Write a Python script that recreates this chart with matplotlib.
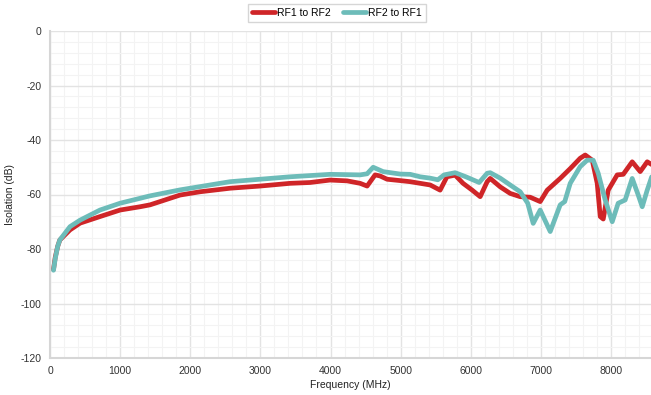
import matplotlib.pyplot as plt
from matplotlib.ticker import MultipleLocator

# values
rf1_freq = [50, 75, 110, 140, 285, 430, 713, 1000, 1284, 1426, 1855, 2140, 2568,
            2996, 3424, 3709, 3994, 4237, 4422, 4522, 4636, 4707, 4807, 4993,
            5136, 5278, 5421, 5563, 5660, 5777, 5890, 6020, 6134, 6234, 6277,
            6420, 6562, 6705, 6847, 6990, 7090, 7275, 7418, 7560, 7632, 7732,
            7803, 7846, 7889, 7960, 8088, 8174, 8302, 8416, 8516, 8580]
rf1_iso = [-87.5, -83.0, -79.0, -76.7, -73.0, -70.5, -68.1, -65.7, -64.5, -63.8,
           -60.2, -59.0, -57.7, -56.9, -55.9, -55.6, -54.7, -55.0, -55.9, -56.9,
           -52.8, -53.2, -54.4, -54.9, -55.3, -55.9, -56.5, -58.4, -53.5, -52.9,
           -55.9, -58.4, -60.8, -55.3, -54.1, -57.2, -59.6, -60.8, -61.0, -62.6,
           -58.4, -54.1, -50.5, -46.7, -45.5, -47.4, -55.9, -68.1, -69.0, -58.4,
           -52.8, -52.6, -48.0, -51.6, -48.0, -49.0]

rf2_freq = [50, 75, 110, 140, 285, 430, 713, 1000, 1284, 1426, 1855, 2140, 2568,
            2996, 3424, 3994, 4422, 4522, 4608, 4750, 4993, 5136, 5278, 5421,
            5530, 5620, 5777, 5930, 6120, 6234, 6277, 6420, 6562, 6705, 6812,
            6890, 6990, 7133, 7275, 7340, 7418, 7560, 7660, 7746, 7817, 7917,
            8017, 8102, 8202, 8302, 8388, 8445, 8516, 8580]
rf2_iso = [-87.8, -83.5, -79.0, -76.7, -71.8, -69.4, -65.7, -63.2, -61.4, -60.5,
           -58.3, -57.1, -55.3, -54.4, -53.5, -52.6, -52.8, -52.4, -50.0, -51.6,
           -52.5, -52.6, -53.5, -54.0, -54.6, -52.8, -52.0, -53.5, -55.6, -52.2,
           -52.0, -54.0, -56.5, -59.0, -63.2, -70.6, -65.7, -73.6, -63.8, -62.6,
           -55.9, -49.8, -47.4, -47.4, -52.2, -62.0, -70.0, -63.2, -62.0, -54.1,
           -60.2, -64.5, -58.4, -53.5]

plt.rcParams['font.family'] = ['Liberation Sans', 'DejaVu Sans']
plt.rcParams['axes.unicode_minus'] = False

fig = plt.figure(figsize=(6.51, 3.95), dpi=100)
ax = fig.add_axes([50 / 651, 37 / 395, 601 / 651, 327 / 395])

ax.plot(rf1_freq, rf1_iso, color='#cf2528', lw=3.4, label='RF1 to RF2',
        solid_capstyle='round', solid_joinstyle='round', zorder=3)
ax.plot(rf2_freq, rf2_iso, color='#6dbcb9', lw=3.4, label='RF2 to RF1',
        solid_capstyle='round', solid_joinstyle='round', zorder=4)

ax.set_xlim(0, 8570)
ax.set_ylim(-120, 0)
ax.xaxis.set_major_locator(MultipleLocator(1000))
ax.xaxis.set_minor_locator(MultipleLocator(200))
ax.yaxis.set_major_locator(MultipleLocator(20))
ax.yaxis.set_minor_locator(MultipleLocator(4))
ax.grid(which='major', color='#e3e3e3', lw=1.0)
ax.grid(which='minor', color='#f3f3f3', lw=0.8)
ax.set_axisbelow(True)

for s in ['top', 'right']:
    ax.spines[s].set_visible(False)
for s in ['left', 'bottom']:
    ax.spines[s].set_color('#d6d6d6')
    ax.spines[s].set_linewidth(1.5)

ax.tick_params(which='both', length=0, labelsize=7.5, colors='#333333', pad=6)
ax.set_xlabel('Frequency (MHz)', fontsize=7.5, color='#222222', labelpad=3)
ax.set_ylabel('Isolation (dB)', fontsize=7.5, color='#222222', labelpad=4)

leg = fig.legend(loc='center', bbox_to_anchor=(337 / 651, 1 - 13 / 395), ncol=2,
                 fontsize=7.5, frameon=True, fancybox=False, handlelength=2.2,
                 handletextpad=0.2, columnspacing=1.2, borderpad=0.35)
leg.get_frame().set_edgecolor('#cccccc')
leg.get_frame().set_linewidth(1.0)
for line in leg.get_lines():
    line.set_linewidth(3.4)
    line.set_solid_capstyle('round')

fig.savefig('out.png', dpi=100)
